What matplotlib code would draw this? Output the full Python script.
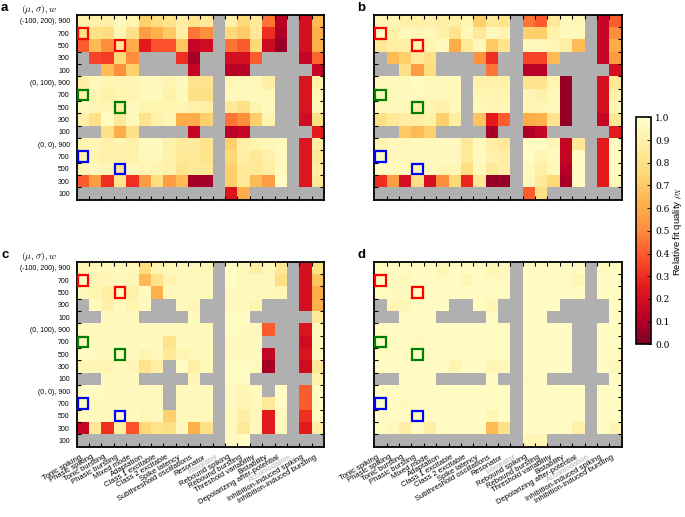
import matplotlib

matplotlib.use("Agg")
import matplotlib.pyplot as plt
import numpy as np
from matplotlib.patches import Rectangle

nan = np.nan

behaviours = [
    "Tonic spiking", "Phasic spiking", "Tonic bursting", "Phasic bursting",
    "Mixed mode", "Adaptation", "Class 1 excitable", "Class 2 excitable",
    "Spike latency", "Subthreshold oscillations", "Resonator", "Integrator",
    "Rebound spiking", "Rebound bursting", "Threshold variability",
    "Bistability", "Depolarizing after-potential", "Accomodation",
    "Inhibition-induced spiking", "Inhibition-induced bursting",
]
faded_behaviours = ["Integrator", "Accomodation"]

row_labels = [
    "(-100, 200), 900", "700", "500", "300", "100",
    "(0, 100), 900", "700", "500", "300", "100",
    "(0, 0), 900", "700", "500", "300", "100",
]

# highlighted cells (row, column) and their colours
box_rows = [1, 2, 6, 7, 11, 12]
box_cols = [0, 3, 0, 3, 0, 3]
box_colors = ["#ff0000", "#ff0000", "#008000", "#008000", "#0000ff", "#0000ff"]

fit_a = [
    [0.90, 0.90, 0.88, 0.95, 0.92, 0.72, 0.78, 0.82, 0.88, 0.82, 0.85, nan, 0.90, 0.75, 0.85, 0.45, 0.12, nan, 0.20, 0.65],
    [0.80, 0.80, 0.78, 0.93, 0.80, 0.55, 0.62, 0.70, 0.88, 0.45, 0.50, nan, 0.75, 0.70, 0.85, 0.30, 0.10, nan, 0.20, 0.62],
    [0.40, 0.65, 0.50, 0.85, 0.60, 0.25, 0.38, 0.38, 0.68, 0.15, 0.18, nan, 0.45, 0.40, 0.75, 0.17, 0.05, nan, 0.20, 0.62],
    [nan, 0.35, 0.33, 0.75, 0.50, nan, nan, nan, 0.30, 0.08, nan, nan, 0.20, 0.20, 0.40, nan, nan, nan, 0.15, 0.42],
    [nan, nan, 0.65, 0.50, 0.72, nan, nan, nan, nan, 0.15, nan, nan, 0.12, 0.12, nan, nan, nan, nan, nan, 0.15],
    [0.88, 0.95, 0.92, 0.93, 0.93, 0.96, 0.96, 0.92, 0.96, 0.82, 0.82, nan, 0.93, 0.95, 0.94, 0.88, nan, nan, 0.22, 0.90],
    [0.90, 0.93, 0.90, 0.92, 0.92, 0.95, 0.95, 0.90, 0.95, 0.80, 0.80, nan, 0.95, 0.95, 0.95, 0.94, nan, nan, 0.22, 0.93],
    [0.95, 0.93, 0.93, 0.88, 0.96, 0.92, 0.92, 0.92, 0.93, 0.90, 0.88, nan, 0.85, 0.80, 0.92, 0.96, nan, nan, 0.22, 0.95],
    [0.90, 0.80, 0.97, 0.85, 0.95, 0.82, 0.90, 0.93, 0.60, 0.60, 0.72, nan, 0.45, 0.50, 0.72, 0.92, nan, nan, 0.18, 0.80],
    [nan, nan, 0.80, 0.60, 0.80, nan, nan, nan, nan, 0.15, nan, nan, 0.12, 0.15, nan, nan, nan, nan, nan, 0.25],
    [0.92, 0.93, 0.90, 0.92, 0.90, 0.96, 0.96, 0.90, 0.86, 0.86, 0.82, nan, 0.72, 0.88, 0.92, 0.94, 0.96, nan, 0.23, 0.88],
    [0.90, 0.92, 0.90, 0.90, 0.90, 0.95, 0.95, 0.90, 0.85, 0.85, 0.82, nan, 0.75, 0.88, 0.85, 0.90, 0.96, nan, 0.23, 0.85],
    [0.93, 0.95, 0.93, 0.85, 0.95, 0.93, 0.92, 0.90, 0.82, 0.85, 0.85, nan, 0.72, 0.85, 0.85, 0.88, 0.96, nan, 0.23, 0.88],
    [0.40, 0.55, 0.30, 0.82, 0.30, 0.55, 0.78, 0.55, 0.65, 0.08, 0.08, nan, 0.72, 0.85, 0.65, 0.55, 0.97, nan, 0.23, 0.85],
    [nan, nan, nan, nan, nan, nan, nan, nan, nan, nan, nan, nan, 0.22, 0.60, nan, nan, nan, nan, nan, nan],
]

fit_b = [
    [0.93, 0.93, 0.90, 0.88, 0.90, 0.88, 0.88, 0.92, 0.72, 0.85, 0.82, nan, 0.45, 0.40, 0.85, 0.95, 0.93, nan, 0.15, 0.40],
    [0.97, 0.90, 0.95, 0.93, 0.95, 0.90, 0.82, 0.95, 0.85, 0.95, 0.92, nan, 0.72, 0.72, 0.90, 0.95, 0.95, nan, 0.15, 0.50],
    [0.85, 0.88, 0.88, 0.92, 0.92, 0.96, 0.60, 0.85, 0.95, 0.70, 0.82, nan, 0.95, 0.95, 0.93, 0.88, 0.65, nan, 0.15, 0.60],
    [nan, 0.65, 0.72, 0.85, 0.80, nan, nan, nan, 0.52, 0.30, nan, nan, 0.35, 0.35, 0.65, nan, nan, nan, 0.15, 0.55],
    [nan, nan, 0.80, 0.55, 0.78, nan, nan, nan, nan, 0.45, nan, nan, 0.12, 0.12, nan, nan, nan, nan, nan, 0.20],
    [0.95, 0.95, 0.95, 0.97, 0.95, 0.95, 0.95, nan, 0.90, 0.90, 0.90, nan, 0.82, 0.82, 0.92, 0.05, nan, nan, 0.20, 0.85],
    [0.95, 0.95, 0.96, 0.96, 0.95, 0.95, 0.95, nan, 0.93, 0.92, 0.92, nan, 0.93, 0.90, 0.95, 0.05, nan, nan, 0.20, 0.90],
    [0.95, 0.96, 0.95, 0.90, 0.93, 0.90, 0.95, nan, 0.95, 0.93, 0.93, nan, 0.93, 0.93, 0.95, 0.05, nan, nan, 0.20, 0.93],
    [0.80, 0.85, 0.88, 0.88, 0.90, 0.72, 0.88, nan, 0.68, 0.25, 0.40, nan, 0.60, 0.62, 0.82, 0.05, nan, nan, 0.15, 0.85],
    [nan, nan, 0.70, 0.65, 0.72, nan, nan, nan, nan, 0.08, nan, nan, 0.10, 0.15, nan, nan, nan, nan, nan, 0.25],
    [0.92, 0.95, 0.95, 0.96, 0.95, 0.96, 0.96, 0.85, 0.96, 0.88, 0.85, nan, 0.97, 0.97, 0.93, 0.15, 0.85, nan, 0.25, 0.97],
    [0.96, 0.95, 0.95, 0.96, 0.96, 0.96, 0.96, 0.85, 0.96, 0.90, 0.88, nan, 0.97, 0.92, 0.96, 0.15, 0.97, nan, 0.25, 0.97],
    [0.97, 0.96, 0.96, 0.93, 0.95, 0.93, 0.93, 0.78, 0.95, 0.85, 0.88, nan, 0.96, 0.88, 0.95, 0.12, 0.97, nan, 0.25, 0.97],
    [0.30, 0.55, 0.20, 0.80, 0.20, 0.50, 0.75, 0.28, 0.85, 0.05, 0.05, nan, 0.95, 0.85, 0.75, 0.08, 0.97, nan, 0.25, 0.95],
    [nan, nan, nan, nan, nan, nan, nan, nan, nan, nan, nan, nan, 0.40, 0.80, nan, nan, nan, nan, nan, nan],
]

fit_c = [
    [0.93, 0.95, 0.95, 0.95, 0.95, 0.78, 0.92, 0.95, 0.95, 0.95, 0.95, nan, 0.97, 0.95, 0.88, 0.95, 0.85, nan, 0.20, 0.80],
    [0.97, 0.93, 0.93, 0.95, 0.93, 0.65, 0.82, 0.92, 0.95, 0.95, 0.96, nan, 0.97, 0.95, 0.95, 0.95, 0.80, nan, 0.20, 0.68],
    [0.96, 0.92, 0.88, 0.96, 0.90, 0.96, 0.62, 0.95, 0.95, 0.95, 0.96, nan, 0.96, 0.95, 0.96, 0.95, 0.93, nan, 0.20, 0.60],
    [nan, 0.95, 0.90, 0.96, 0.92, 0.96, nan, nan, 0.96, 0.93, nan, nan, 0.96, 0.95, 0.92, nan, nan, nan, 0.20, 0.62],
    [nan, nan, 0.96, 0.96, 0.96, nan, nan, nan, nan, 0.96, nan, nan, 0.97, 0.97, nan, nan, nan, nan, nan, 0.85],
    [0.96, 0.96, 0.95, 0.96, 0.96, 0.96, 0.96, 0.96, 0.95, 0.96, 0.96, nan, 0.97, 0.96, 0.96, 0.40, nan, nan, 0.22, 0.96],
    [0.95, 0.96, 0.95, 0.96, 0.95, 0.96, 0.96, 0.82, 0.96, 0.96, 0.96, nan, 0.96, 0.95, 0.96, nan, nan, nan, 0.18, 0.96],
    [0.97, 0.96, 0.96, 0.96, 0.96, 0.92, 0.95, 0.85, 0.92, 0.95, 0.95, nan, 0.96, 0.96, 0.96, 0.15, nan, nan, 0.22, 0.96],
    [0.93, 0.93, 0.92, 0.96, 0.93, 0.82, 0.88, nan, 0.97, 0.88, 0.95, nan, 0.97, 0.97, 0.96, 0.08, nan, nan, 0.18, 0.85],
    [nan, nan, 0.96, 0.96, 0.96, nan, nan, nan, nan, 0.93, nan, nan, 0.97, 0.97, nan, nan, nan, nan, nan, 0.90],
    [0.97, 0.97, 0.96, 0.96, 0.96, 0.96, 0.96, nan, 0.96, 0.96, 0.96, nan, 0.96, 0.93, 0.96, nan, 0.97, nan, 0.40, 0.97],
    [0.97, 0.96, 0.96, 0.96, 0.96, 0.96, 0.96, nan, 0.96, 0.96, 0.96, nan, 0.96, 0.93, 0.96, 0.85, 0.97, nan, 0.40, 0.97],
    [0.96, 0.96, 0.96, 0.96, 0.96, 0.93, 0.95, 0.72, 0.95, 0.95, 0.95, nan, 0.96, 0.88, 0.95, 0.25, 0.96, nan, 0.30, 0.96],
    [0.15, 0.85, 0.30, 0.88, 0.38, 0.75, 0.82, 0.80, 0.95, 0.62, 0.80, nan, 0.95, 0.85, 0.95, 0.25, 0.96, nan, 0.25, 0.88],
    [nan, nan, nan, nan, nan, nan, nan, nan, nan, nan, nan, nan, 0.97, 0.97, nan, nan, nan, nan, nan, nan],
]

fit_d = [
    [0.97, 0.97, 0.97, 0.97, 0.97, 0.93, 0.97, 0.97, 0.97, 0.93, 0.95, nan, 0.97, 0.97, 0.97, 0.97, 0.97, nan, 0.96, 0.97],
    [0.97, 0.96, 0.95, 0.97, 0.97, 0.96, 0.97, 0.93, 0.97, 0.96, 0.96, nan, 0.97, 0.97, 0.97, 0.97, 0.93, nan, 0.97, 0.97],
    [0.97, 0.96, 0.96, 0.97, 0.97, 0.97, 0.97, 0.97, 0.97, 0.97, 0.97, nan, 0.97, 0.97, 0.97, 0.97, 0.97, nan, 0.97, 0.97],
    [nan, 0.93, 0.93, 0.97, 0.97, 0.97, nan, nan, 0.97, 0.93, nan, nan, 0.97, 0.97, 0.97, nan, nan, nan, nan, 0.97],
    [nan, nan, 0.97, 0.97, 0.97, nan, nan, nan, nan, 0.97, nan, nan, 0.97, 0.97, nan, nan, nan, nan, nan, 0.97],
    [0.97, 0.97, 0.97, 0.97, 0.97, 0.97, 0.97, 0.97, 0.97, 0.97, 0.97, nan, 0.97, 0.97, 0.97, 0.97, nan, nan, 0.97, 0.97],
    [0.97, 0.97, 0.97, 0.96, 0.97, 0.97, 0.97, 0.97, 0.97, 0.97, 0.97, nan, 0.97, 0.97, 0.97, 0.97, nan, nan, 0.97, 0.97],
    [0.97, 0.97, 0.97, 0.97, 0.97, 0.97, 0.97, 0.97, 0.97, 0.97, 0.97, nan, 0.97, 0.97, 0.97, 0.97, nan, nan, 0.97, 0.96],
    [0.97, 0.97, 0.97, 0.97, 0.97, 0.97, 0.92, 0.97, 0.97, 0.93, 0.95, nan, 0.97, 0.97, 0.97, 0.97, nan, nan, 0.97, 0.95],
    [nan, nan, 0.97, 0.97, 0.97, nan, nan, nan, nan, 0.97, nan, nan, 0.96, 0.97, nan, nan, nan, nan, nan, 0.97],
    [0.97, 0.97, 0.97, 0.97, 0.97, 0.97, 0.97, 0.97, 0.97, 0.97, 0.97, nan, 0.97, 0.97, 0.97, 0.97, 0.97, nan, 0.97, 0.97],
    [0.97, 0.97, 0.96, 0.97, 0.97, 0.97, 0.97, 0.97, 0.97, 0.97, 0.97, nan, 0.97, 0.97, 0.97, 0.97, 0.97, nan, 0.97, 0.97],
    [0.97, 0.97, 0.97, 0.97, 0.97, 0.97, 0.97, 0.97, 0.97, 0.93, 0.97, nan, 0.97, 0.97, 0.97, 0.97, 0.97, nan, 0.97, 0.97],
    [0.97, 0.95, 0.88, 0.97, 0.88, 0.97, 0.97, 0.97, 0.97, 0.65, 0.80, nan, 0.97, 0.97, 0.97, 0.97, 0.90, nan, 0.97, 0.93],
    [nan, nan, nan, nan, nan, nan, nan, nan, nan, nan, nan, nan, 0.93, 0.93, nan, nan, nan, nan, nan, nan],
]

plt.rcParams["font.family"] = ["Liberation Sans", "DejaVu Sans"]
plt.rcParams["mathtext.fontset"] = "cm"

W, H = 685, 517
fig = plt.figure(figsize=(W / 100, H / 100), dpi=100)


def px_axes(x0, y0, x1, y1):
    """axes from pixel box (top-left origin)"""
    return fig.add_axes([x0 / W, 1 - y1 / H, (x1 - x0) / W, (y1 - y0) / H])


def draw_panel(ax, data, show_rows, show_cols):
    vals = np.ma.masked_invalid(np.array(data, dtype=float))
    n_rows, n_cols = vals.shape
    ax.set_facecolor("#b0b0b0")
    mesh = ax.pcolormesh(np.arange(n_cols + 1), np.arange(n_rows + 1), vals,
                         cmap="YlOrRd_r", vmin=0, vmax=1)
    ax.set_xlim(0, n_cols)
    ax.set_ylim(n_rows, 0)

    for r, c, col in zip(box_rows, box_cols, box_colors):
        ax.add_patch(Rectangle((c + 0.07, r + 0.07), 0.86, 0.86, fill=False,
                               edgecolor=col, lw=1.6, zorder=3))

    # ticks on cell borders, labels on cell centres
    ax.set_xticks(np.arange(1, n_cols))
    ax.set_yticks(np.arange(1, n_rows))
    ax.set_xticklabels([])
    ax.set_yticklabels([])
    ax.tick_params(which="major", direction="in", top=True, right=True,
                   length=3, width=0.8)
    ax.set_xticks(np.arange(n_cols) + 0.5, minor=True)
    ax.set_yticks(np.arange(n_rows) + 0.5, minor=True)
    ax.tick_params(which="minor", length=0, labelsize=5, pad=5)
    if show_rows:
        ax.set_yticklabels(row_labels, minor=True)
    else:
        ax.set_yticklabels([], minor=True)
    if show_cols:
        labs = ax.set_xticklabels(behaviours, minor=True, rotation=30,
                                  ha="right", va="top", fontsize=5.5)
        for t in labs:
            if t.get_text() in faded_behaviours:
                t.set_color("#b0b0b0")
        ax.tick_params(axis="x", which="minor", pad=5)
    else:
        ax.set_xticklabels([], minor=True)
    for s in ax.spines.values():
        s.set_linewidth(1.3)
    return mesh


ax_a = px_axes(76.7, 14.7, 324.0, 199.7)
ax_b = px_axes(374.3, 14.7, 621.7, 199.7)
ax_c = px_axes(76.7, 261.7, 324.0, 446.7)
ax_d = px_axes(374.3, 261.7, 621.7, 446.7)

mesh = draw_panel(ax_a, fit_a, True, False)
draw_panel(ax_b, fit_b, False, False)
draw_panel(ax_c, fit_c, True, True)
draw_panel(ax_d, fit_d, False, True)

for ax in (ax_a, ax_c):
    ax.text(-0.077, 1.03, r"$(\mu, \sigma), w$", transform=ax.transAxes,
            ha="right", va="center", fontsize=7)

for letter, x, y in [("a", 1, 8), ("b", 357, 8), ("c", 1, 255), ("d", 357, 255)]:
    fig.text(x / W, 1 - y / H, letter, fontsize=9.5, fontweight="bold",
             ha="left", va="center")

cax = px_axes(636, 117.3, 651, 344.3)
cb = fig.colorbar(mesh, cax=cax, ticks=np.linspace(0, 1, 11))
cb.ax.tick_params(direction="in", length=3, width=0.6, labelsize=6.5, pad=3)
cb.ax.set_yticklabels([f"{v:.1f}" for v in np.linspace(0, 1, 11)])
for t in cb.ax.get_yticklabels():
    t.set_family("DejaVu Serif")
cb.outline.set_linewidth(1.2)
cb.set_label(r"Relative fit quality $\rho_X$", fontsize=6.8, labelpad=1)

fig.savefig("out.png", dpi=100)
